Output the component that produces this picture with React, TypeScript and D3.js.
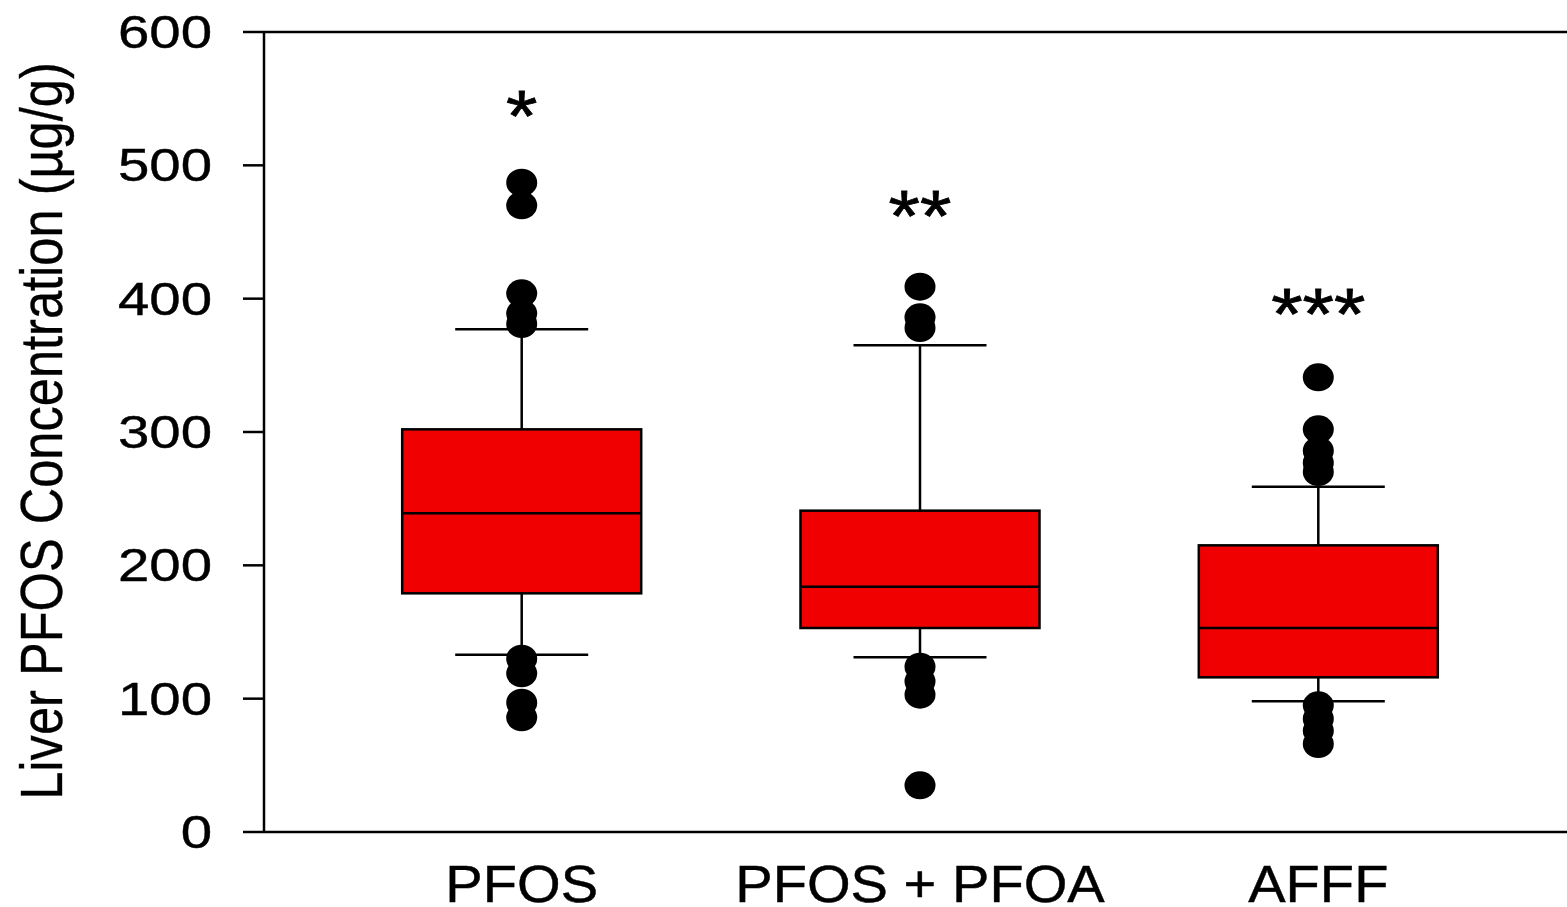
import React from "react";
import * as d3 from "d3";

const categories = ["PFOS", "PFOS + PFOA", "AFFF"];
const whiskerLow = [133, 131, 98];
const q1 = [179, 153, 116];
const median = [239, 184, 153];
const q3 = [302, 241, 215];
const whiskerHigh = [377, 365, 259];
const outliers = [
  [487, 470, 404, 389, 381, 130, 119, 97, 86],
  [409, 386, 378, 124, 113, 103, 35],
  [341, 302, 286, 277, 270, 95, 85, 76, 66],
];
const stars = ["*", "**", "***"];
const starValues = [544, 469, 395];
const yTicks = [0, 100, 200, 300, 400, 500, 600];
const yTitle = "Liver PFOS Concentration (µg/g)";

const W = 1567;
const H = 907;
const left = 264;
const right = 1576;
const top = 32;
const bottom = 832;
const FONT = "'Liberation Sans', Arial, Helvetica, sans-serif";

export default function App() {
  const y = d3.scaleLinear().domain([0, 600]).range([bottom, top]);
  const x = d3.scalePoint<string>().domain(categories).range([left, right]).padding(0.647);
  const boxW = 239;
  const capW = 133;
  const red = "#f00000";
  const sw = 2.5;

  return (
    <svg
      width={W}
      height={H}
      style={{ position: "absolute", left: 0, top: 0, background: "#fff" }}
      fontFamily={FONT}
    >
      <rect x={0} y={0} width={W} height={H} fill="#fff" />
      {/* frame */}
      <line x1={left} x2={right} y1={top} y2={top} stroke="#000" strokeWidth={2.5} />
      <line x1={left} x2={right} y1={bottom} y2={bottom} stroke="#000" strokeWidth={2.5} />
      <line x1={left} x2={left} y1={top - 1} y2={bottom + 1} stroke="#000" strokeWidth={2.5} />
      {/* y ticks */}
      {yTicks.map((t) => (
        <g key={t}>
          <line x1={left - 21} x2={left} y1={y(t)} y2={y(t)} stroke="#000" strokeWidth={2.5} />
          <text
            transform={`translate(212,${y(t) + 16}) scale(1.2,1)`}
            textAnchor="end"
            fontSize={47}
            fill="#000"
            stroke="#000"
            strokeWidth={0.4}
          >
            {t}
          </text>
        </g>
      ))}
      {/* y title */}
      <text
        transform={`translate(62,431) scale(1.17,1) rotate(-90)`}
        textAnchor="middle"
        fontSize={50.6}
        fill="#000"
        stroke="#000"
        strokeWidth={0.3}
      >
        {yTitle}
      </text>
      {/* x labels */}
      {categories.map((c) => (
        <text
          key={c}
          transform={`translate(${x(c)},902) scale(1.1,1)`}
          textAnchor="middle"
          fontSize={51}
          fill="#000"
          stroke="#000"
          strokeWidth={0.4}
        >
          {c}
        </text>
      ))}
      {/* boxes */}
      {categories.map((c, i) => {
        const cx = x(c) as number;
        return (
          <g key={c}>
            <line x1={cx} x2={cx} y1={y(whiskerHigh[i])} y2={y(q3[i])} stroke="#000" strokeWidth={sw} />
            <line x1={cx} x2={cx} y1={y(q1[i])} y2={y(whiskerLow[i])} stroke="#000" strokeWidth={sw} />
            <line x1={cx - capW / 2} x2={cx + capW / 2} y1={y(whiskerHigh[i])} y2={y(whiskerHigh[i])} stroke="#000" strokeWidth={sw} />
            <line x1={cx - capW / 2} x2={cx + capW / 2} y1={y(whiskerLow[i])} y2={y(whiskerLow[i])} stroke="#000" strokeWidth={sw} />
            <rect
              x={cx - boxW / 2}
              y={y(q3[i])}
              width={boxW}
              height={y(q1[i]) - y(q3[i])}
              fill={red}
              stroke="#000"
              strokeWidth={sw}
            />
            <line x1={cx - boxW / 2} x2={cx + boxW / 2} y1={y(median[i])} y2={y(median[i])} stroke="#000" strokeWidth={sw} />
            {outliers[i].map((v, j) => (
              <ellipse key={j} cx={cx} cy={y(v)} rx={15.5} ry={14} fill="#000" />
            ))}
            <text
              transform={`translate(${cx},${y(starValues[i]) + 34}) scale(1.12,1)`}
              textAnchor="middle"
              fontSize={72}
              fill="#000"
              stroke="#000"
              strokeWidth={0.8}
            >
              {stars[i]}
            </text>
          </g>
        );
      })}
    </svg>
  );
}
